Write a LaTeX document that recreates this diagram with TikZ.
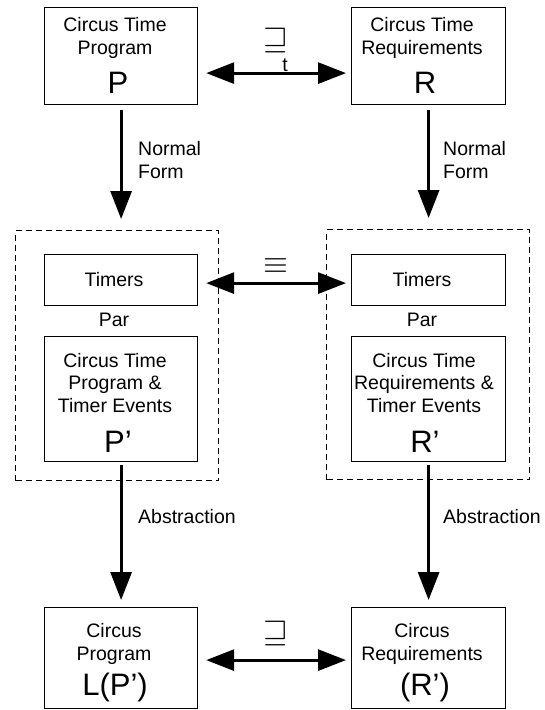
\documentclass[tikz,border=0pt]{standalone}
\usepackage{graphicx}
\usepackage{fontspec}
\setmainfont{Liberation Sans}
\usetikzlibrary{arrows.meta}
\begin{document}
\begin{tikzpicture}[x=1pt,y=-1pt,
  box/.style={draw, line width=1.2pt, anchor=north west, inner sep=0pt},
  dbox/.style={draw, dash pattern=on 6pt off 4pt, line width=1.1pt, anchor=north west, inner sep=0pt},
  txt/.style={font=\fontsize{19.5}{22.5}\selectfont, align=center, inner sep=0pt},
  lbl/.style={font=\fontsize{19.5}{22.5}\selectfont, align=left, inner sep=0pt, anchor=west},
  big/.style={font=\fontsize{31}{31}\selectfont, inner sep=0pt, anchor=base},
  sym/.style={inner sep=0pt},
  arr/.style={line width=3pt, {Triangle[length=28pt,width=21pt]}-{Triangle[length=28pt,width=21pt]}},
  darr/.style={line width=3pt, -{Triangle[length=28pt,width=21pt]}}
]
\useasboundingbox (0,0) rectangle (544,710);

% dashed groups
\node[dbox, minimum width=203pt, minimum height=250pt] (LD) at (15,230) {};
\node[dbox, minimum width=203pt, minimum height=250pt] (RD) at (326,229) {};

% top boxes
\node[box, minimum width=153pt, minimum height=97pt] (P) at (44,7) {};
\node[box, minimum width=154pt, minimum height=97pt] (R) at (351,7) {};
\node[txt] (Pt) at (115,38) {Circus Time\\Program};
\node[big] (Pl) at (118,93) {P};
\node[txt] (Rt) at (422,38) {Circus Time\\Requirements};
\node[big] (Rl) at (425,93) {R};

% middle boxes
\node[box, minimum width=153pt, minimum height=51pt] (PT) at (44,254) {};
\node[box, minimum width=154pt, minimum height=51pt] (RT) at (351,254) {};
\node[txt] (PTt) at (114,280) {Timers};
\node[txt] (RTt) at (422,280) {Timers};
\node[txt] (Ppar) at (114,320) {Par};
\node[txt] (Rpar) at (422,320) {Par};
\node[box, minimum width=153pt, minimum height=125pt] (PP) at (44,336) {};
\node[box, minimum width=154pt, minimum height=125pt] (RR) at (351,336) {};
\node[txt] (PPt) at (115,383) {Circus Time\\Program \&\\Timer Events};
\node[big] (PPl) at (118,452) {P’};
\node[txt] (RRt) at (424,383) {Circus Time\\Requirements \&\\Timer Events};
\node[big] (RRl) at (425,452) {R’};

% bottom boxes
\node[box, minimum width=153pt, minimum height=101pt] (LB) at (44,607) {};
\node[box, minimum width=154pt, minimum height=101pt] (RB) at (351,607) {};
\node[txt] (LBt) at (114,644) {Circus\\Program};
\node[big] (LBl) at (115,695) {L(P’)};
\node[txt] (RBt) at (422,644) {Circus\\Requirements};
\node[big] (RBl) at (425,695) {(R’)};

% relation symbols
\node[sym] (s1) at (276,40) {\scalebox{3.2}{$\sqsupseteq$}};
\node[txt] (s1t) at (285,65) {t};
\node[sym] (s2) at (276,266) {\scalebox{3.2}{$\equiv$}};
\node[sym] (s3) at (276,633) {\scalebox{3.2}{$\sqsupseteq$}};

% horizontal arrows
\draw[arr, shorten <=8pt, shorten >=5pt] ([yshift=-17pt]P.east) -- ([yshift=-17pt]R.west);
\draw[arr, shorten <=8pt, shorten >=5pt] ([yshift=-3pt]PT.east) -- ([yshift=-3pt]RT.west);
\draw[arr, shorten <=8pt, shorten >=5pt] ([yshift=-2pt]LB.east) -- ([yshift=-2pt]RB.west);

% vertical arrows
\draw[darr, shorten <=5pt, shorten >=11pt] (P.south) -- (P.south |- LD.north);
\draw[darr, shorten <=5pt, shorten >=11pt] (R.south) -- (R.south |- RD.north);
\draw[darr, shorten <=3pt, shorten >=7pt] (PP.south) -- (LB.north);
\draw[darr, shorten <=3pt, shorten >=7pt] (RR.south) -- (RB.north);

% arrow labels
\node[lbl] (nf1) at (138,160) {Normal\\Form};
\node[lbl] (nf2) at (443,160) {Normal\\Form};
\node[lbl] (ab1) at (138,517) {Abstraction};
\node[lbl] (ab2) at (443,517) {Abstraction};
\end{tikzpicture}
\end{document}
